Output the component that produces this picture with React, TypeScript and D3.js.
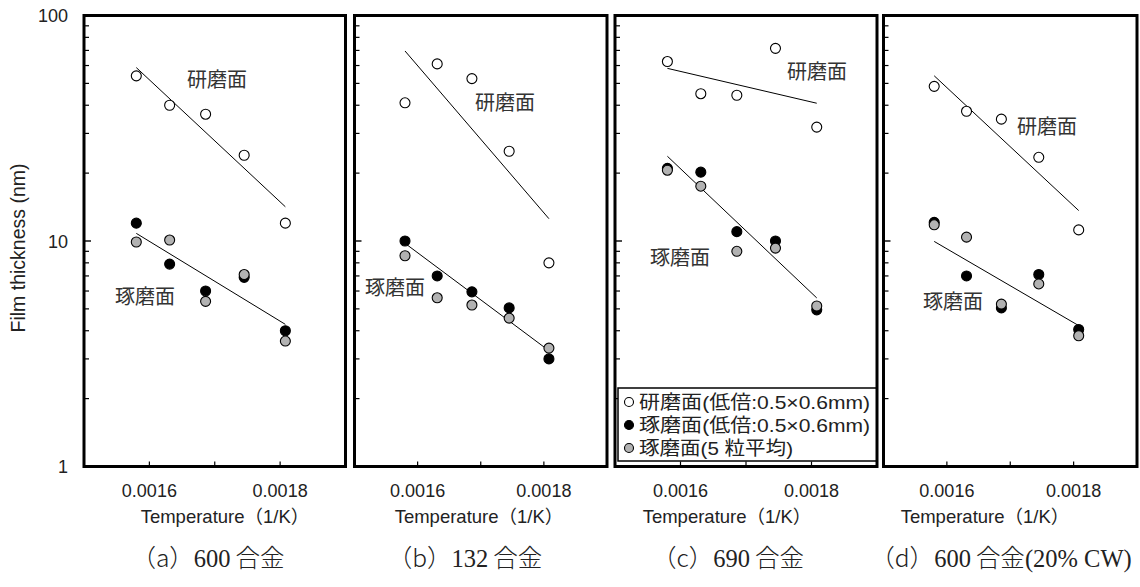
import React from "react";
import * as d3 from "d3";

// Reciprocal test temperatures (1/K), shared by all four alloys
const invTemp = [0.00158, 0.001631, 0.001686, 0.001745, 0.001808];

// Film thickness (nm): open = 研磨面 (低倍), black = 琢磨面 (低倍), grey = 琢磨面 (5 粒平均)
const openA = [54, 40, 36.5, 24, 12];
const blackA = [12, 7.9, 6.0, 6.9, 4.0];
const greyA = [9.9, 10.1, 5.4, 7.1, 3.6];

const openB = [41, 61, 52.5, 25, 8.0];
const blackB = [10, 7.0, 5.95, 5.05, 3.0];
const greyB = [8.6, 5.6, 5.2, 4.55, 3.35];

const openC = [62.5, 45, 44.3, 71.5, 32];
const blackC = [21, 20.2, 11, 10, 4.95];
const greyC = [20.6, 17.5, 9.0, 9.3, 5.15];

const openD = [48.5, 37.6, 34.7, 23.5, 11.2];
const blackD = [12.1, 7.0, 5.05, 7.1, 4.05];
const greyD = [11.8, 10.4, 5.25, 6.45, 3.8];

const captionTags = ["（a）", "（b）", "（c）", "（d）"];
const captionNums = ["600", "132", "690", "600"];
const captionTails = ["", "", "", "(20% CW)"];
const xTickValues = [0.0016, 0.0017, 0.0018];
const xTickLabels = ["0.0016", "", "0.0018"];
const yTickValues = [1, 10, 100];
const yTickLabels = ["1", "10", "100"];
const legendLabels = [
  "研磨面(低倍:0.5×0.6mm)",
  "琢磨面(低倍:0.5×0.6mm)",
  "琢磨面(5 粒平均)",
];

const series = [
  { open: openA, black: blackA, grey: greyA },
  { open: openB, black: blackB, grey: greyB },
  { open: openC, black: blackC, grey: greyC },
  { open: openD, black: blackD, grey: greyD },
];

// Panel geometry and label placement (pixels)
const layout = [
  { x0: 84, x1: 345.5, cap: 208, temp: 225, pol: [217, 80], etch: [145, 297] },
  { x0: 354.5, x1: 607, cap: 465, temp: 479, pol: [505, 103], etch: [395, 288] },
  { x0: 615, x1: 877, cap: 728, temp: 727, pol: [817, 72], etch: [680, 258] },
  { x0: 883.5, x1: 1137, cap: 1001, temp: 985, pol: [1047, 127], etch: [953, 302] },
];

const TOP = 15.5;
const BOTTOM = 466.5;
const GREY = "#b2b2b2";
const SANS = "'Liberation Sans', Arial, 'Noto Sans CJK JP', sans-serif";
const CJK = "'Noto Sans CJK JP', sans-serif";
const SERIF = "'Liberation Serif', 'Noto Sans CJK JP', serif";

const y = d3.scaleLog().domain([1, 100]).range([BOTTOM, TOP]);

// Least-squares fit of log10(thickness) against 1/T
function logFit(xs: number[], ys: number[]) {
  const ly = ys.map((v) => Math.log10(v));
  const mx = d3.mean(xs)!;
  const my = d3.mean(ly)!;
  let sxy = 0;
  let sxx = 0;
  xs.forEach((xv, i) => {
    sxy += (xv - mx) * (ly[i] - my);
    sxx += (xv - mx) * (xv - mx);
  });
  const slope = sxy / sxx;
  return (xv: number) => Math.pow(10, my + slope * (xv - mx));
}

const minorTicks: number[] = [];
[1, 10].forEach((dec) => {
  for (let k = 2; k <= 9; k++) minorTicks.push(dec * k);
});

function Panel({ idx }: { idx: number }) {
  const L = layout[idx];
  const S = series[idx];
  const x = d3.scaleLinear().domain([0.0015, 0.0019]).range([L.x0, L.x1]);
  const fitOpen = logFit(invTemp, S.open);
  const fitBlack = logFit(invTemp, S.black);
  const ends = [invTemp[0], invTemp[invTemp.length - 1]];
  const pathFor = (f: (v: number) => number) =>
    d3.line<number>().x((d) => x(d)).y((d) => y(f(d)))(ends) || "";

  return (
    <g>
      {/* y ticks on the left edge */}
      {minorTicks.map((t) => (
        <line key={"m" + t} x1={L.x0} x2={L.x0 + 5} y1={y(t)} y2={y(t)} stroke="#000" strokeWidth={1.2} />
      ))}
      <line x1={L.x0} x2={L.x0 + 7} y1={y(10)} y2={y(10)} stroke="#000" strokeWidth={1.4} />
      {/* x ticks */}
      {xTickValues.map((t) => (
        <line key={"x" + t} x1={x(t)} x2={x(t)} y1={BOTTOM} y2={BOTTOM - 5} stroke="#000" strokeWidth={1.2} />
      ))}
      {xTickValues.map((t, i) =>
        xTickLabels[i] ? (
          <text key={"xl" + t} x={x(t)} y={496.5} textAnchor="middle" fontFamily={SANS} fontSize={18} fill="#222">
            {xTickLabels[i]}
          </text>
        ) : null
      )}
      <text x={L.temp} y={523} textAnchor="middle" fontFamily={SANS} fontSize={18.5} fill="#222">
        Temperature<tspan fontFamily={CJK}>（</tspan>1/K<tspan fontFamily={CJK}>）</tspan>
      </text>

      {/* regression lines */}
      <path d={pathFor(fitOpen)} stroke="#000" strokeWidth={1} fill="none" />
      <path d={pathFor(fitBlack)} stroke="#000" strokeWidth={1} fill="none" />

      {/* data markers */}
      {S.open.map((v, i) => (
        <circle key={"o" + i} cx={x(invTemp[i])} cy={y(v)} r={5} fill="#fff" stroke="#000" strokeWidth={1.1} />
      ))}
      {S.black.map((v, i) => (
        <circle key={"b" + i} cx={x(invTemp[i])} cy={y(v)} r={5} fill="#000" stroke="#000" strokeWidth={1.1} />
      ))}
      {S.grey.map((v, i) => (
        <circle key={"g" + i} cx={x(invTemp[i])} cy={y(v)} r={5} fill={GREY} stroke="#000" strokeWidth={1.1} />
      ))}

      {/* in-plot labels */}
      <text x={L.pol[0]} y={L.pol[1] + 7} textAnchor="middle" fontFamily={CJK} fontSize={20} fill="#333">
        研磨面
      </text>
      <text x={L.etch[0]} y={L.etch[1] + 7} textAnchor="middle" fontFamily={CJK} fontSize={20} fill="#333">
        琢磨面
      </text>

      {/* legend (panel c) */}
      {idx === 2 && (
        <g>
          <rect x={618} y={388} width={259} height={73} fill="#fff" stroke="#000" strokeWidth={1.5} />
          {legendLabels.map((lab, i) => {
            const cy = 402 + i * 23;
            const fill = i === 0 ? "#fff" : i === 1 ? "#000" : GREY;
            return (
              <g key={"lg" + i}>
                <circle cx={629} cy={cy} r={4.5} fill={fill} stroke="#000" strokeWidth={1.1} />
                <text
                  x={639}
                  y={cy + 7}
                  fontFamily={SANS}
                  fontSize={19}
                  fill="#222"
                  textLength={i < 2 ? 231 : 154}
                  lengthAdjust="spacingAndGlyphs"
                >
                  {lab}
                </text>
              </g>
            );
          })}
        </g>
      )}

      {/* frame */}
      <rect x={L.x0} y={TOP} width={L.x1 - L.x0} height={BOTTOM - TOP} fill="none" stroke="#000" strokeWidth={3} />

      {/* caption */}
      <text x={L.cap} y={567} textAnchor="middle" fontFamily={SERIF} fontSize={24.5} fill="#222">
        <tspan fontFamily={CJK} fontWeight={300}>{captionTags[idx]}</tspan>
        {captionNums[idx]}
        <tspan fontFamily={CJK} fontWeight={300} dx={5}>合金</tspan>
        {captionTails[idx]}
      </text>
    </g>
  );
}

export default function App() {
  return (
    <div style={{ position: "absolute", left: 0, top: 0 }}>
      <svg width={1140} height={587} style={{ display: "block", background: "#fff" }}>
        {/* y tick labels (first panel only) */}
        {yTickValues.map((v, i) => (
          <text key={"yl" + v} x={68} y={y(v) + 6.5} textAnchor="end" fontFamily={SANS} fontSize={18} fill="#222">
            {yTickLabels[i]}
          </text>
        ))}
        <text
          transform={`translate(25,248) rotate(-90)`}
          textAnchor="middle"
          fontFamily={SANS}
          fontSize={19.5}
          fill="#222"
        >
          Film thickness (nm)
        </text>
        {series.map((_, i) => (
          <Panel key={i} idx={i} />
        ))}
      </svg>
    </div>
  );
}
